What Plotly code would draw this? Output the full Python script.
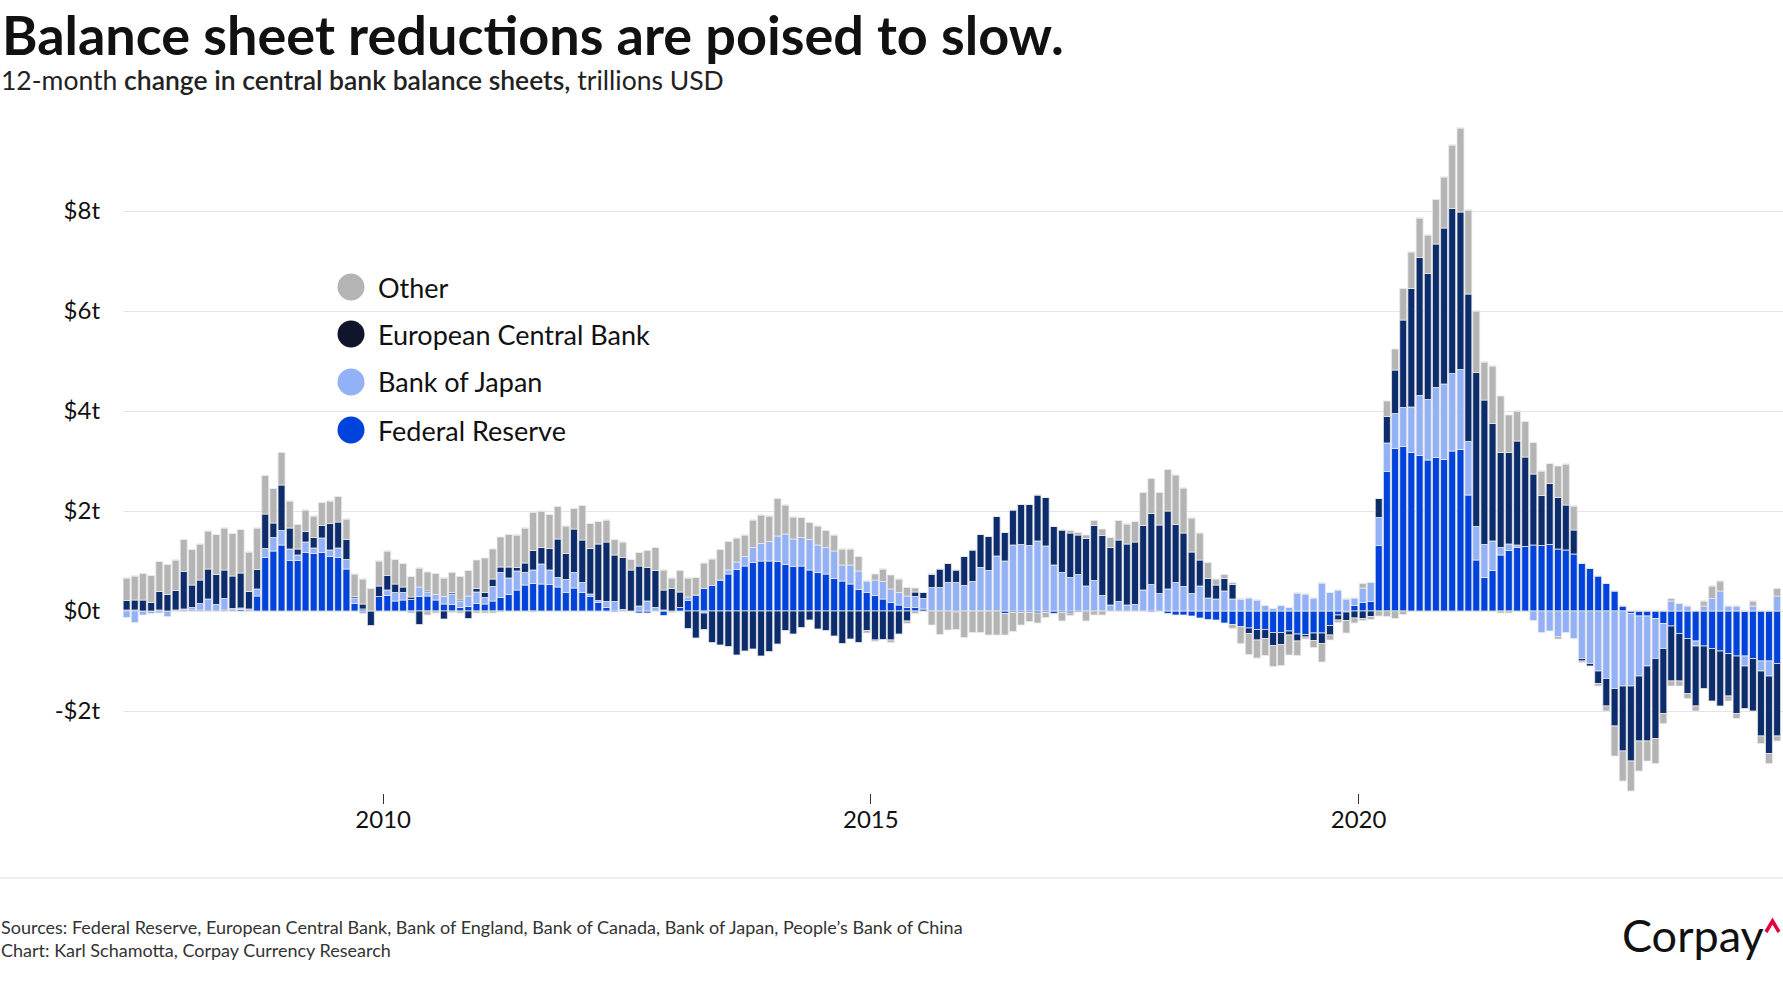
import plotly.graph_objects as go
import pandas as pd

# ---------------- data (trillions USD, 12-month change) ----------------
months = pd.date_range("2007-05-01", periods=204, freq="MS").strftime("%Y-%m-%d").tolist()

fed = [
    0.02, 0.02, 0.0, 0.0, 0.02, 0.0, 0.0, 0.02, 0.02, 0.02, 0.0, 0.0,
    0.02, 0.02, 0.03, 0.0, 0.3, 1.07, 1.2, 1.32, 1.01, 1.01, 1.17, 1.15,
    1.17, 1.09, 1.07, 0.84, 0.15, 0.04, 0.0, 0.29, 0.31, 0.2, 0.22, 0.23,
    0.29, 0.3, 0.22, 0.14, 0.13, 0.07, 0.09, 0.15, 0.14, 0.2, 0.27, 0.33,
    0.42, 0.52, 0.55, 0.54, 0.53, 0.48, 0.37, 0.46, 0.37, 0.29, 0.17, 0.07,
    -0.02, 0.0, 0.0, -0.04, -0.04, 0.0, -0.09, 0.0, 0.07, 0.21, 0.32, 0.45,
    0.51, 0.62, 0.74, 0.83, 0.9, 0.97, 1.0, 1.0, 0.99, 0.93, 0.89, 0.9,
    0.82, 0.77, 0.74, 0.65, 0.6, 0.54, 0.43, 0.37, 0.31, 0.24, 0.17, 0.12,
    0.07, 0.07, 0.04, 0.0, 0.0, 0.0, -0.02, 0.0, 0.0, 0.0, 0.0, 0.0,
    -0.05, -0.03, -0.03, -0.03, -0.04, -0.03, -0.05, -0.03, -0.04, -0.02, 0.0, 0.0,
    0.0, 0.0, 0.0, 0.0, 0.0, 0.0, -0.02, 0.0, -0.05, -0.08, -0.08, -0.1,
    -0.14, -0.17, -0.18, -0.24, -0.27, -0.31, -0.34, -0.37, -0.37, -0.43, -0.43, -0.4,
    -0.46, -0.47, -0.44, -0.44, -0.29, -0.08, -0.02, 0.11, 0.17, 0.19, 1.31, 2.79,
    3.25, 3.29, 3.17, 3.11, 3.02, 3.07, 3.03, 3.2, 3.23, 2.32, 1.02, 0.67,
    0.81, 1.12, 1.21, 1.27, 1.29, 1.32, 1.31, 1.33, 1.24, 1.22, 1.14, 0.95,
    0.85, 0.7, 0.55, 0.4, 0.1, -0.05, -0.1, -0.1, -0.15, -0.25, -0.3, -0.45,
    -0.55, -0.6, -0.7, -0.75, -0.8, -0.85, -0.9, -0.9, -0.95, -1.0, -1.0, -1.05,
]

boj = [
    -0.13, -0.23, -0.08, -0.05, -0.04, -0.11, 0.02, 0.02, 0.05, 0.13, 0.24, 0.13,
    0.23, 0.03, 0.03, 0.04, 0.14, 0.18, 0.27, 0.29, 0.23, 0.11, 0.21, 0.11,
    0.29, 0.13, 0.19, 0.19, 0.11, -0.05, 0.0, 0.0, 0.11, 0.17, 0.15, -0.04,
    0.19, 0.07, 0.11, 0.15, 0.21, 0.12, 0.21, 0.23, 0.13, 0.29, 0.5, 0.33,
    0.38, 0.25, 0.27, 0.4, 0.29, 0.19, 0.26, 0.31, 0.2, 0.05, 0.04, 0.12,
    0.19, 0.03, 0.0, 0.1, 0.2, 0.07, 0.02, -0.03, 0.0, 0.07, 0.0, -0.04,
    0.0, 0.0, 0.08, 0.15, 0.19, 0.3, 0.35, 0.39, 0.51, 0.61, 0.55, 0.57,
    0.61, 0.55, 0.53, 0.55, 0.32, 0.38, 0.37, 0.23, 0.31, 0.35, 0.27, 0.25,
    0.23, 0.22, 0.21, 0.47, 0.47, 0.57, 0.57, 0.51, 0.59, 0.87, 0.81, 1.1,
    1.0, 1.32, 1.33, 1.31, 1.4, 1.3, 0.92, 0.77, 0.67, 0.73, 0.5, 0.61,
    0.31, 0.12, 0.19, 0.12, 0.13, 0.42, 0.53, 0.35, 0.44, 0.57, 0.49, 0.35,
    0.5, 0.26, 0.24, 0.4, 0.24, 0.24, 0.26, 0.22, 0.11, 0.05, 0.11, 0.07,
    0.36, 0.34, 0.26, 0.56, 0.37, 0.42, 0.24, 0.15, 0.29, 0.38, 0.56, 0.57,
    0.7, 0.78, 0.91, 1.2, 1.21, 1.4, 1.51, 1.55, 1.6, 1.07, 0.67, 0.66,
    0.59, 0.15, 0.13, 0.05, 0.0, -0.19, -0.43, -0.4, -0.51, -0.43, -0.55, -0.95,
    -1.05, -1.2, -1.35, -1.55, -1.5, -1.45, -1.2, -1.0, -0.8, -0.5, 0.2, 0.15,
    0.1, -0.1, 0.1, 0.25, 0.4, 0.1, 0.1, -0.2, 0.1, -0.2, -0.3, 0.3,
]

ecb = [
    0.19, 0.2, 0.22, 0.17, 0.37, 0.33, 0.39, 0.75, 0.45, 0.47, 0.6, 0.6,
    0.57, 0.65, 0.7, 0.35, 0.39, 0.69, 0.29, 0.91, 0.42, 0.12, 0.21, 0.21,
    0.25, 0.53, 0.52, 0.4, 0.03, 0.1, -0.29, 0.21, 0.29, 0.17, 0.11, 0.05,
    -0.27, 0.03, 0.0, -0.16, 0.03, 0.03, -0.15, 0.07, 0.1, 0.15, 0.11, 0.22,
    0.07, 0.19, 0.39, 0.33, 0.43, 0.77, 0.52, 0.87, 0.85, 0.91, 1.13, 1.19,
    0.93, 1.04, 0.82, 0.8, 0.67, 0.74, 0.4, 0.45, 0.31, -0.35, -0.54, -0.33,
    -0.63, -0.68, -0.71, -0.88, -0.8, -0.76, -0.9, -0.81, -0.66, -0.39, -0.46, -0.33,
    -0.18, -0.36, -0.39, -0.5, -0.65, -0.56, -0.63, -0.39, -0.58, -0.57, -0.58, -0.46,
    -0.2, 0.09, 0.12, 0.26, 0.37, 0.38, 0.25, 0.58, 0.63, 0.66, 0.68, 0.79,
    0.57, 0.7, 0.8, 0.82, 0.92, 0.97, 0.77, 0.85, 0.89, 0.79, 0.95, 1.1,
    1.2, 1.15, 1.23, 1.22, 1.25, 1.29, 1.42, 1.37, 1.56, 1.16, 1.07, 0.83,
    0.52, 0.39, 0.28, 0.25, 0.29, 0.0, -0.11, -0.21, -0.18, -0.26, -0.24, -0.08,
    -0.14, -0.05, -0.15, -0.21, -0.19, -0.1, -0.17, -0.14, -0.15, -0.11, 0.38, 0.53,
    0.87, 1.75, 2.37, 2.76, 2.52, 2.87, 3.12, 3.3, 3.15, 2.95, 3.08, 2.89,
    2.35, 1.9, 1.83, 2.08, 1.79, 1.42, 1.0, 1.22, 1.03, 0.9, 0.48, -0.05,
    -0.05, -0.25, -0.55, -0.75, -1.3, -1.5, -1.3, -1.5, -1.6, -1.3, -1.1, -0.95,
    -1.1, -1.2, -0.85, -1.05, -1.1, -0.85, -1.15, -0.85, -1.05, -1.3, -1.55, -1.45,
]

other_up = [
    0.45, 0.48, 0.53, 0.54, 0.6, 0.6, 0.61, 0.64, 0.71, 0.72, 0.76, 0.8,
    0.84, 0.85, 0.87, 0.79, 0.83, 0.77, 0.69, 0.65, 0.54, 0.49, 0.43, 0.43,
    0.46, 0.45, 0.51, 0.41, 0.45, 0.5, 0.45, 0.5, 0.49, 0.49, 0.47, 0.41,
    0.38, 0.38, 0.42, 0.37, 0.4, 0.47, 0.51, 0.57, 0.69, 0.6, 0.6, 0.65,
    0.65, 0.7, 0.76, 0.73, 0.68, 0.65, 0.55, 0.41, 0.69, 0.5, 0.45, 0.44,
    0.31, 0.31, 0.21, 0.27, 0.34, 0.46, 0.4, 0.21, 0.43, 0.38, 0.35, 0.51,
    0.53, 0.61, 0.57, 0.48, 0.43, 0.55, 0.57, 0.51, 0.75, 0.58, 0.44, 0.4,
    0.34, 0.38, 0.34, 0.32, 0.32, 0.32, 0.29, 0.0, 0.12, 0.25, 0.28, 0.27,
    0.17, 0.08, 0.0, 0.02, 0.0, 0.0, 0.0, 0.0, 0.0, 0.0, 0.0, 0.0,
    0.0, 0.0, 0.0, 0.0, 0.0, 0.0, 0.0, 0.0, 0.05, 0.05, 0.07, 0.1,
    0.13, 0.2, 0.39, 0.4, 0.41, 0.66, 0.7, 0.65, 0.83, 0.99, 0.9, 0.68,
    0.54, 0.32, 0.12, 0.08, 0.04, 0.0, 0.0, 0.0, 0.0, 0.0, 0.0, 0.0,
    0.0, 0.0, 0.0, 0.0, 0.0, 0.0, 0.0, 0.0, 0.09, 0.0, 0.0, 0.31,
    0.42, 0.63, 0.73, 0.79, 0.77, 0.89, 1.02, 1.27, 1.68, 1.68, 1.23, 0.76,
    1.15, 1.13, 0.75, 0.6, 0.71, 0.63, 0.49, 0.4, 0.63, 0.82, 0.48, 0.0,
    0.0, 0.0, 0.0, 0.0, 0.0, 0.0, 0.0, 0.0, 0.0, 0.0, 0.05, 0.0,
    0.0, 0.0, 0.1, 0.25, 0.2, 0.0, 0.0, 0.0, 0.1, 0.0, 0.0, 0.15,
]

other_down = [
    0, 0, 0, 0, 0, 0, 0, 0, 0, 0, 0, 0,
    0, 0, 0, 0, 0, 0, 0, 0, 0, 0, 0, 0,
    0, 0, 0, 0, 0, 0, 0, 0, 0, 0, 0, 0,
    0, -0.08, -0.04, 0, -0.03, -0.04, 0, -0.04, -0.04, -0.04, -0.02, 0,
    0, 0, -0.02, 0, 0, 0, 0, 0, 0, 0, 0, 0,
    0, 0, 0, 0, 0, 0, 0, 0, 0, 0, 0, 0,
    0, 0, 0, 0, 0, 0, 0, 0, 0, 0, 0, 0,
    0, 0, 0, 0, 0, 0, 0, -0.05, -0.03, 0, -0.05, 0,
    -0.05, -0.05, 0, -0.28, -0.47, -0.38, -0.35, -0.53, -0.43, -0.43, -0.48, -0.48,
    -0.43, -0.38, -0.25, -0.18, -0.2, -0.1, 0, -0.17, -0.05, 0, -0.2, -0.08,
    -0.08, 0, 0, 0, 0, 0, 0, 0, 0, 0, 0, 0,
    0, 0, 0, 0, -0.08, -0.34, -0.42, -0.36, -0.34, -0.42, -0.42, -0.4,
    -0.29, -0.04, -0.14, -0.37, -0.1, -0.05, -0.25, -0.1, -0.04, -0.06, -0.1, -0.11,
    -0.15, -0.07, 0, 0, 0, 0, 0, 0, 0, 0, 0, 0,
    0, -0.04, -0.04, 0, 0, 0, 0, 0, -0.05, 0, 0, -0.03,
    0, -0.05, -0.1, -0.6, -0.6, -0.6, -0.6, -0.4, -0.5, -0.2, -0.1, -0.1,
    -0.1, -0.1, 0, 0, 0, -0.1, -0.1, 0, 0, -0.15, -0.2, -0.1,
]

y_tickvals = [-2, 0, 2, 4, 6, 8]
y_ticktext = ["-$2t", "$0t", "$2t", "$4t", "$6t", "$8t"]
x_tickvals = ["2010-01-01", "2015-01-01", "2020-01-01"]
x_ticktext = ["2010", "2015", "2020"]

legend_names = ["Other", "European Central Bank", "Bank of Japan", "Federal Reserve"]

# ---------------- styles ----------------
C_FED = "#0043DC"
C_BOJ = "#93B1F6"
C_ECB = "#0C2C6C"
C_ECB_LEG = "#10152B"
C_OTH = "#B4B4B4"
FONT = "Lato"

W, H = 1783, 1000
PLOT_L, PLOT_T, PLOT_B = 123, 120, 793   # page coordinates of the plot area
L, T, R = PLOT_L, PLOT_T, 0
B = H - PLOT_B
PW, PH = W - L - R, H - T - B


def px(x):
    return (x - L) / PW


def py(y):
    return ((H - B) - y) / PH


BAR_W = 26 * 24 * 3600 * 1000

fig = go.Figure()
for vals, col in [(fed, C_FED), (boj, C_BOJ), (ecb, C_ECB), (other_up, C_OTH), (other_down, C_OTH)]:
    fig.add_trace(go.Bar(
        x=months, y=vals, xperiod="M1", xperiodalignment="middle", width=BAR_W,
        marker=dict(color=col, line=dict(color="rgba(232,232,232,1)", width=0.8)),
        showlegend=False, hoverinfo="skip",
    ))

shapes = []
annotations = []

# legend (circles + labels)
leg_cols = [C_OTH, C_ECB_LEG, C_BOJ, C_FED]
leg_y = [287, 334, 382, 430]
for name, col, yy in zip(legend_names, leg_cols, leg_y):
    shapes.append(dict(type="circle", xref="paper", yref="paper",
                       xsizemode="pixel", ysizemode="pixel",
                       xanchor=px(351), yanchor=py(yy),
                       x0=-13.5, x1=13.5, y0=-13.5, y1=13.5,
                       fillcolor=col, line=dict(width=0)))
    annotations.append(dict(xref="paper", yref="paper", x=px(376), y=py(yy),
                            xanchor="left", yanchor="middle", showarrow=False,
                            text=name, font=dict(family=FONT, size=27, color="#111")))

# title and subtitle
annotations.append(dict(xref="paper", yref="paper", x=px(0), y=py(0),
                        xanchor="left", yanchor="top", showarrow=False,
                        text="<b>Balance sheet reductions are poised to slow.</b>",
                        font=dict(family=FONT, size=54, color="#111")))
annotations.append(dict(xref="paper", yref="paper", x=px(-1), y=py(80),
                        xanchor="left", yanchor="middle", showarrow=False,
                        text="12-month <span style='font-weight:600'>change in central bank balance sheets,</span> trillions USD",
                        font=dict(family=FONT, size=26.5, color="#222")))

# footer
shapes.append(dict(type="line", xref="paper", yref="paper", x0=px(0), x1=px(1783), y0=py(878), y1=py(878),
                   line=dict(color="#dddddd", width=1)))
annotations.append(dict(xref="paper", yref="paper", x=px(-1), y=py(927),
                        xanchor="left", yanchor="middle", showarrow=False,
                        text="Sources: Federal Reserve, European Central Bank, Bank of England, Bank of Canada, Bank of Japan, People\u2019s Bank of China",
                        font=dict(family=FONT, size=18, color="#333")))
annotations.append(dict(xref="paper", yref="paper", x=px(-1), y=py(950),
                        xanchor="left", yanchor="middle", showarrow=False,
                        text="Chart: Karl Schamotta, Corpay Currency Research",
                        font=dict(family=FONT, size=18, color="#333")))
# logo
annotations.append(dict(xref="paper", yref="paper", x=px(1620), y=py(935),
                        xanchor="left", yanchor="middle", showarrow=False,
                        text="Corpay", font=dict(family=FONT, size=45, color="#111")))
shapes.append(dict(type="path", xref="paper", yref="paper",
                   path=f"M {px(1766)},{py(932)} L {px(1772.5)},{py(921)} L {px(1779)},{py(932)}",
                   line=dict(color="#E4003A", width=3.5)))

fig.update_layout(
    width=W, height=H,
    margin=dict(l=L, r=R, t=T, b=B),
    paper_bgcolor="white", plot_bgcolor="white",
    barmode="relative", bargap=0.1,
    showlegend=False,
    shapes=shapes, annotations=annotations,
    font=dict(family=FONT, color="#111"),
)
fig.update_xaxes(type="date", range=["2007-05-03", "2024-05-08"],
                 tickvals=x_tickvals, ticktext=x_ticktext,
                 ticks="outside", ticklen=10, tickwidth=1, tickcolor="#333",
                 ticklabelstandoff=-5,
                 showgrid=False, showline=False, zeroline=False,
                 tickfont=dict(family=FONT, size=24, color="#111"))
fig.update_yaxes(range=[-3.64, 9.82], tickvals=y_tickvals, ticktext=y_ticktext,
                 showgrid=True, gridcolor="#e4e4e4", gridwidth=1, zeroline=False,
                 ticks="", ticklabelstandoff=22,
                 tickfont=dict(family=FONT, size=24, color="#111"))

fig.write_html("out.html", config={"displayModeBar": False},
               post_script="document.body.style.margin='0px';")
